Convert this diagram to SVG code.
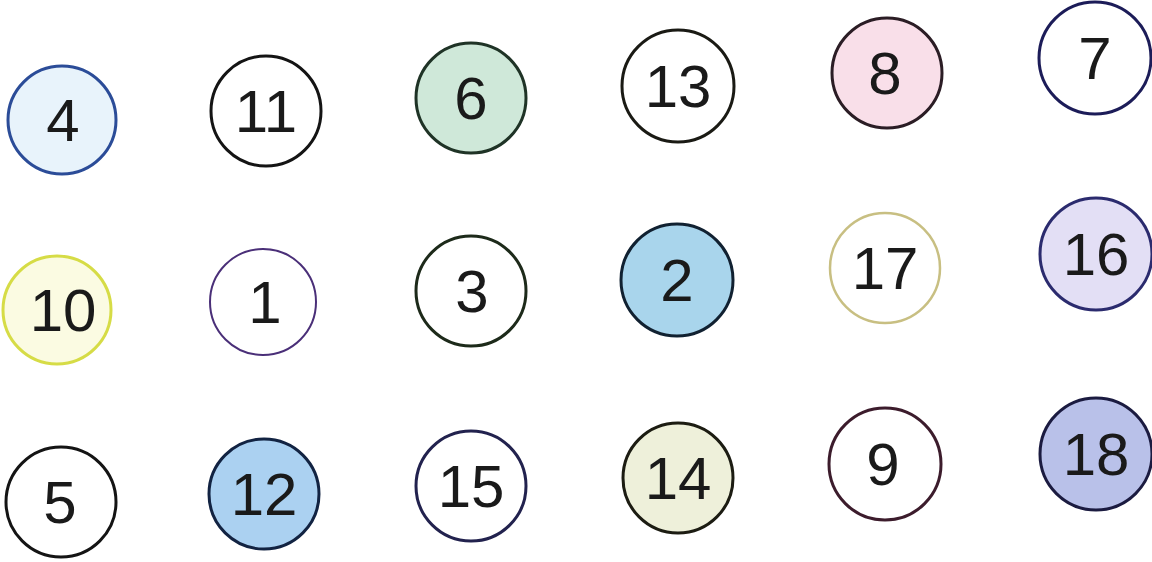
<svg xmlns="http://www.w3.org/2000/svg" width="1152" height="562" viewBox="0 0 1152 562">
<style>
.n circle{stroke-width:3}
.n text{font-family:"Liberation Sans",Arial,sans-serif;font-size:60px;fill:#1a1a1a;text-anchor:middle}
</style>
<rect width="1152" height="562" fill="#ffffff"/>
<g id="connectors"/>
<g id="n4" class="n"><circle cx="62" cy="120" r="54" fill="#e8f3fb" stroke="#2b4c98"/><text x="63" y="141">4</text></g>
<g id="n11" class="n"><circle cx="266" cy="111" r="55" fill="#ffffff" stroke="#141414"/><text x="266" y="132">11</text></g>
<g id="n6" class="n"><circle cx="471" cy="98" r="55" fill="#cfe8d9" stroke="#1f3326"/><text x="471" y="119">6</text></g>
<g id="n13" class="n"><circle cx="678" cy="86" r="56" fill="#ffffff" stroke="#1a1a14"/><text x="678" y="107">13</text></g>
<g id="n8" class="n"><circle cx="887" cy="73" r="55" fill="#f9dfe9" stroke="#2b1d25"/><text x="885" y="94">8</text></g>
<g id="n7" class="n"><circle cx="1095" cy="58" r="56" fill="#ffffff" stroke="#1c1c58"/><text x="1095" y="79">7</text></g>
<g id="n10" class="n"><circle cx="57" cy="310" r="54" fill="#fbfbe2" stroke="#d6dc46" stroke-width="4"/><text x="63" y="331">10</text></g>
<g id="n1" class="n"><circle cx="263" cy="302" r="53" fill="#ffffff" stroke="#4a2f78" style="stroke-width:2"/><text x="265" y="323">1</text></g>
<g id="n3" class="n"><circle cx="471" cy="291" r="55" fill="#ffffff" stroke="#1d2a1a"/><text x="472" y="312">3</text></g>
<g id="n2" class="n"><circle cx="677" cy="280" r="56" fill="#a9d5ec" stroke="#112131"/><text x="677" y="301">2</text></g>
<g id="n17" class="n"><circle cx="885" cy="268" r="55" fill="#ffffff" stroke="#c8bf82" style="stroke-width:2.5"/><text x="885" y="289">17</text></g>
<g id="n16" class="n"><circle cx="1096" cy="254" r="56" fill="#e3dff5" stroke="#2b2b6e"/><text x="1096" y="275">16</text></g>
<g id="n5" class="n"><circle cx="61" cy="502" r="55" fill="#ffffff" stroke="#141414"/><text x="60" y="523">5</text></g>
<g id="n12" class="n"><circle cx="264" cy="494" r="55" fill="#abd1f1" stroke="#122342"/><text x="264" y="515">12</text></g>
<g id="n15" class="n"><circle cx="471" cy="486" r="55" fill="#ffffff" stroke="#22224e"/><text x="471" y="507">15</text></g>
<g id="n14" class="n"><circle cx="678" cy="478" r="55" fill="#eef0da" stroke="#1c1c12"/><text x="678" y="499">14</text></g>
<g id="n9" class="n"><circle cx="885" cy="464" r="56" fill="#ffffff" stroke="#3c1c2c"/><text x="883" y="485">9</text></g>
<g id="n18" class="n"><circle cx="1096" cy="454" r="56" fill="#b9c1e9" stroke="#1b1b40"/><text x="1096" y="475">18</text></g>
</svg>
